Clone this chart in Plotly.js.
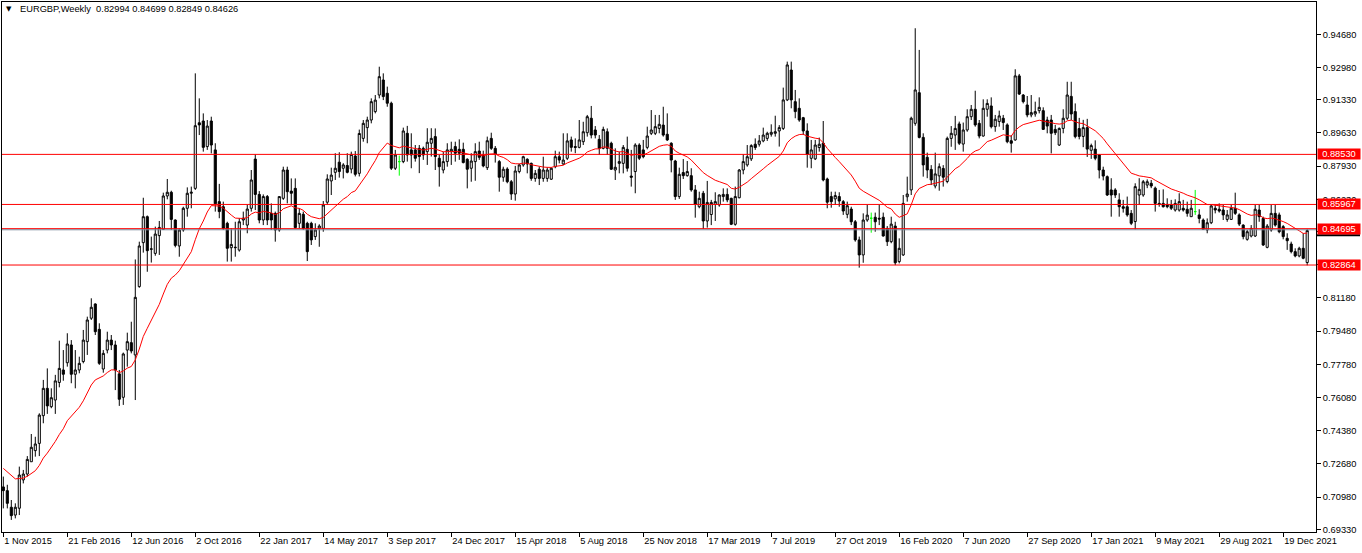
<!DOCTYPE html>
<html>
<head>
<meta charset="utf-8">
<script src="https://cdn.plot.ly/plotly-3.0.1.min.js"></script>
<style>html,body{margin:0;padding:0;background:#fff;}#chart{width:1362px;height:553px;}</style>
</head>
<body>
<div id="chart"></div>
<script>
// Weekly EURGBP candles, 1 Nov 2015 .. 30 Jan 2022 (one value per week)
const opens = [0.7150,0.7131,0.7046,0.7006,0.7041,0.7186,0.7216,0.7279,0.7336,0.7373,0.7515,0.7655,0.7561,0.7595,0.7685,0.7749,0.7786,0.7877,0.7727,0.7749,
0.7792,0.7894,0.8014,0.8087,0.7957,0.7754,0.7851,0.7902,0.7877,0.7729,0.7609,0.7851,0.7889,0.7826,0.8176,0.8401,0.8534,0.8367,0.8346,0.8437,
0.8469,0.8640,0.8659,0.8517,0.8384,0.8466,0.8577,0.8654,0.8679,0.9015,0.9024,0.8893,0.9024,0.8876,0.8611,0.8585,0.8500,0.8375,0.8375,0.8363,
0.8517,0.8491,0.8577,0.8829,0.8648,0.8517,0.8637,0.8551,0.8551,0.8466,0.8628,0.8773,0.8665,0.8679,0.8500,0.8546,0.8500,0.8500,0.8432,0.8474,
0.8474,0.8608,0.8717,0.8761,0.8813,0.8782,0.8796,0.8778,0.8845,0.8756,0.8935,0.8990,0.9029,0.9072,0.9157,0.9234,0.9166,0.9115,0.8782,0.8816,
0.8816,0.8961,0.8876,0.8876,0.8884,0.8884,0.8867,0.8910,0.8944,0.8833,0.8773,0.8816,0.8867,0.8893,0.8879,0.8879,0.8828,0.8782,0.8816,0.8870,
0.8850,0.8785,0.8935,0.8884,0.8816,0.8736,0.8778,0.8713,0.8650,0.8765,0.8799,0.8828,0.8807,0.8730,0.8777,0.8730,0.8730,0.8726,0.8790,0.8841,
0.8804,0.8833,0.8927,0.8893,0.8889,0.8918,0.8964,0.9038,0.8978,0.8930,0.8884,0.8969,0.8910,0.8773,0.8807,0.8807,0.8879,0.8742,0.8765,0.8901,
0.8876,0.8889,0.8961,0.8961,0.8986,0.9003,0.8956,0.8910,0.8819,0.8637,0.8760,0.8744,0.8744,0.8671,0.8585,0.8654,0.8512,0.8545,0.8597,0.8594,
0.8637,0.8648,0.8628,0.8495,0.8631,0.8773,0.8799,0.8830,0.8905,0.8905,0.8922,0.8935,0.8956,0.8961,0.8973,0.8986,0.9132,0.9285,0.9123,0.9089,
0.9041,0.8973,0.8833,0.8830,0.8888,0.8910,0.8727,0.8637,0.8625,0.8637,0.8611,0.8546,0.8573,0.8508,0.8415,0.8338,0.8517,0.8526,0.8531,0.8526,
0.8531,0.8474,0.8406,0.8486,0.8304,0.8338,0.8636,0.8671,0.9012,0.9169,0.8940,0.8838,0.8776,0.8691,0.8743,0.8781,0.8714,0.8935,0.8952,0.9009,
0.8906,0.8978,0.9046,0.9084,0.9012,0.8947,0.9084,0.9101,0.8995,0.9021,0.9038,0.9004,0.8923,0.8927,0.9255,0.9157,0.9106,0.9055,0.9060,0.9077,
0.9077,0.9029,0.9029,0.8981,0.8901,0.8986,0.9038,0.9150,0.9072,0.8985,0.8945,0.8990,0.8874,0.8880,0.8850,0.8773,0.8739,0.8671,0.8671,0.8620,
0.8585,0.8585,0.8551,0.8509,0.8645,0.8645,0.8696,0.8705,0.8680,0.8602,0.8602,0.8597,0.8594,0.8568,0.8568,0.8577,0.8572,0.8534,0.8560,0.8543,
0.8517,0.8466,0.8503,0.8577,0.8572,0.8568,0.8520,0.8520,0.8577,0.8543,0.8491,0.8418,0.8435,0.8435,0.8568,0.8525,0.8377,0.8466,0.8551,0.8543,
0.8483,0.8423,0.8394,0.8355,0.8333,0.8372,0.82994];
const highs = [0.7203,0.7161,0.7083,0.7066,0.7254,0.7237,0.7308,0.7421,0.7407,0.7527,0.7698,0.7757,0.7655,0.7724,0.7899,0.7851,0.7937,0.7902,0.7851,0.7817,
0.7954,0.8022,0.8116,0.8090,0.7988,0.7851,0.7945,0.7928,0.7899,0.7749,0.7838,0.7940,0.7996,0.8315,0.8406,0.8631,0.8540,0.8432,0.8483,0.8512,
0.8657,0.8727,0.8667,0.8520,0.8474,0.8585,0.8684,0.8688,0.9268,0.9140,0.9063,0.9029,0.9046,0.8910,0.8702,0.8611,0.8508,0.8474,0.8508,0.8526,
0.8560,0.8594,0.8773,0.8853,0.8665,0.8648,0.8645,0.8602,0.8560,0.8637,0.8790,0.8790,0.8730,0.8730,0.8577,0.8560,0.8508,0.8508,0.8500,0.8495,
0.8614,0.8751,0.8785,0.8859,0.8864,0.8808,0.8859,0.8867,0.8870,0.8980,0.9029,0.9046,0.9140,0.9157,0.9302,0.9268,0.9200,0.9123,0.8876,0.8847,
0.8990,0.8999,0.8961,0.8901,0.8901,0.8893,0.8987,0.8987,0.8986,0.8850,0.8867,0.8910,0.8918,0.8918,0.8930,0.8913,0.8833,0.8859,0.8910,0.8918,
0.8872,0.8944,0.8964,0.8896,0.8824,0.8790,0.8787,0.8722,0.8794,0.8805,0.8846,0.8833,0.8811,0.8773,0.8790,0.8841,0.8787,0.8786,0.8872,0.8867,
0.8961,0.8961,0.8944,0.8935,0.9029,0.9020,0.9055,0.9101,0.8998,0.8952,0.8995,0.8986,0.8918,0.8884,0.8867,0.8901,0.8944,0.8876,0.8910,0.8910,
0.8927,0.8995,0.9080,0.9055,0.9055,0.9097,0.9063,0.8915,0.8825,0.8785,0.8829,0.8819,0.8782,0.8696,0.8662,0.8666,0.8717,0.8620,0.8659,0.8648,
0.8679,0.8679,0.8631,0.8688,0.8778,0.8853,0.8901,0.8905,0.8935,0.8952,0.8990,0.8969,0.9007,0.9051,0.9003,0.9195,0.9328,0.9328,0.9183,0.9140,
0.9045,0.9012,0.8927,0.8927,0.8939,0.9024,0.8734,0.8662,0.8662,0.8659,0.8619,0.8611,0.8585,0.8517,0.8432,0.8551,0.8594,0.8555,0.8555,0.8594,
0.8555,0.8486,0.8534,0.8508,0.8423,0.8645,0.8739,0.9046,0.9499,0.9388,0.8961,0.8862,0.8798,0.8862,0.8807,0.8798,0.8944,0.8998,0.9050,0.9021,
0.9016,0.9084,0.9106,0.9179,0.9029,0.9135,0.9135,0.9145,0.9055,0.9077,0.9055,0.9012,0.8952,0.9289,0.9265,0.9162,0.9152,0.9157,0.9123,0.9145,
0.9094,0.9046,0.9055,0.9004,0.8991,0.9084,0.9225,0.9225,0.9114,0.9040,0.9030,0.9035,0.8908,0.8925,0.8855,0.8790,0.8745,0.8731,0.8680,0.8654,
0.8620,0.8637,0.8568,0.8705,0.8731,0.8722,0.8725,0.8722,0.8688,0.8671,0.8674,0.8628,0.8620,0.8623,0.8654,0.8620,0.8611,0.8620,0.8671,0.8572,
0.8525,0.8525,0.8594,0.8594,0.8602,0.8594,0.8568,0.8594,0.8657,0.8551,0.8495,0.8466,0.8491,0.8594,0.8594,0.8534,0.8496,0.8594,0.8594,0.8555,
0.8491,0.8449,0.8406,0.8372,0.8380,0.8449,0.84699];
const lows = [0.7040,0.7040,0.6981,0.6989,0.7006,0.7168,0.7203,0.7279,0.7305,0.7308,0.7476,0.7524,0.7553,0.7524,0.7660,0.7694,0.7766,0.7681,0.7655,0.7732,
0.7783,0.7826,0.8005,0.7928,0.7775,0.7735,0.7834,0.7851,0.7646,0.7565,0.7570,0.7766,0.7834,0.7595,0.8170,0.8350,0.8252,0.8299,0.8334,0.8338,
0.8466,0.8623,0.8466,0.8377,0.8329,0.8457,0.8534,0.8577,0.8671,0.8952,0.8867,0.8876,0.8858,0.8560,0.8526,0.8466,0.8304,0.8304,0.8329,0.8355,
0.8491,0.8449,0.8560,0.8568,0.8500,0.8491,0.8491,0.8466,0.8406,0.8457,0.8620,0.8602,0.8594,0.8474,0.8474,0.8466,0.8307,0.8389,0.8415,0.8380,
0.8457,0.8594,0.8645,0.8722,0.8734,0.8730,0.8756,0.8756,0.8740,0.8740,0.8918,0.8910,0.9012,0.9063,0.9140,0.9131,0.9097,0.8773,0.8773,0.8744,
0.8808,0.8816,0.8782,0.8816,0.8757,0.8825,0.8799,0.8842,0.8773,0.8688,0.8756,0.8790,0.8799,0.8816,0.8825,0.8807,0.8679,0.8713,0.8718,0.8825,
0.8787,0.8773,0.8876,0.8811,0.8662,0.8713,0.8705,0.8620,0.8616,0.8756,0.8790,0.8756,0.8718,0.8713,0.8696,0.8713,0.8713,0.8722,0.8782,0.8807,
0.8799,0.8824,0.8867,0.8859,0.8884,0.8901,0.8944,0.8935,0.8935,0.8850,0.8879,0.8850,0.8773,0.8722,0.8756,0.8756,0.8765,0.8688,0.8654,0.8824,
0.8833,0.8879,0.8952,0.8952,0.8961,0.8944,0.8922,0.8761,0.8620,0.8625,0.8727,0.8739,0.8662,0.8529,0.8577,0.8471,0.8478,0.8491,0.8512,0.8585,
0.8611,0.8608,0.8491,0.8488,0.8628,0.8751,0.8790,0.8819,0.8876,0.8893,0.8915,0.8922,0.8944,0.8944,0.8893,0.8978,0.9126,0.9089,0.9038,0.9020,
0.8952,0.8785,0.8782,0.8824,0.8867,0.8715,0.8577,0.8580,0.8594,0.8585,0.8543,0.8526,0.8491,0.8406,0.8273,0.8298,0.8508,0.8452,0.8457,0.8491,
0.8432,0.8384,0.8398,0.8286,0.8295,0.8333,0.8611,0.8645,0.9000,0.8935,0.8739,0.8731,0.8696,0.8679,0.8667,0.8688,0.8705,0.8892,0.8876,0.8901,
0.8867,0.8969,0.9029,0.8995,0.8935,0.8944,0.9046,0.8986,0.8969,0.8995,0.8978,0.8910,0.8862,0.8923,0.9157,0.9114,0.9043,0.9043,0.9046,0.9063,
0.8978,0.8961,0.8858,0.8952,0.8896,0.8961,0.9029,0.9029,0.8935,0.8930,0.8890,0.8840,0.8830,0.8823,0.8730,0.8720,0.8640,0.8534,0.8630,0.8534,
0.8555,0.8534,0.8491,0.8469,0.8594,0.8636,0.8680,0.8680,0.8560,0.8585,0.8581,0.8577,0.8568,0.8560,0.8560,0.8560,0.8534,0.8534,0.8543,0.8500,
0.8466,0.8449,0.8496,0.8551,0.8555,0.8517,0.8508,0.8517,0.8543,0.8486,0.8418,0.8411,0.8428,0.8430,0.8508,0.8384,0.8372,0.8457,0.8483,0.8449,
0.8418,0.8364,0.8346,0.8326,0.8326,0.8316,0.82849];
const closes = [0.7131,0.7066,0.7003,0.7046,0.7211,0.7216,0.7291,0.7353,0.7370,0.7518,0.7655,0.7565,0.7607,0.7693,0.7757,0.7727,0.7882,0.7727,0.7749,0.7783,
0.7902,0.8005,0.8070,0.7945,0.7783,0.7834,0.7902,0.7877,0.7749,0.7599,0.7831,0.7894,0.7846,0.8121,0.8384,0.8534,0.8360,0.8369,0.8445,0.8479,
0.8640,0.8659,0.8520,0.8387,0.8466,0.8577,0.8654,0.8659,0.9000,0.9004,0.8889,0.8998,0.8901,0.8600,0.8560,0.8474,0.8372,0.8392,0.8377,0.8508,
0.8526,0.8573,0.8722,0.8648,0.8517,0.8637,0.8517,0.8517,0.8466,0.8637,0.8773,0.8662,0.8654,0.8478,0.8551,0.8474,0.8355,0.8415,0.8466,0.8486,
0.8594,0.8727,0.8747,0.8782,0.8765,0.8799,0.8761,0.8853,0.8751,0.8960,0.9012,0.9029,0.9123,0.9131,0.9251,0.9149,0.9115,0.8782,0.8850,0.8816,
0.8973,0.8850,0.8850,0.8833,0.8842,0.8850,0.8915,0.8935,0.8842,0.8790,0.8816,0.8876,0.8879,0.8859,0.8859,0.8811,0.8777,0.8819,0.8867,0.8838,
0.8794,0.8923,0.8884,0.8855,0.8736,0.8777,0.8713,0.8650,0.8768,0.8799,0.8841,0.8804,0.8730,0.8756,0.8730,0.8773,0.8773,0.8782,0.8841,0.8824,
0.8824,0.8922,0.8889,0.8889,0.8927,0.8969,0.9046,0.8952,0.8952,0.8884,0.8981,0.8884,0.8777,0.8787,0.8816,0.8889,0.8782,0.8736,0.8901,0.8833,
0.8841,0.8947,0.8978,0.8995,0.9007,0.8952,0.8927,0.8824,0.8637,0.8751,0.8744,0.8765,0.8671,0.8597,0.8628,0.8512,0.8607,0.8607,0.8611,0.8645,
0.8648,0.8620,0.8495,0.8637,0.8773,0.8816,0.8841,0.8898,0.8888,0.8922,0.8952,0.8961,0.8966,0.8969,0.8990,0.9132,0.9311,0.9132,0.9072,0.9029,
0.8973,0.8853,0.8876,0.8901,0.8905,0.8722,0.8608,0.8611,0.8642,0.8614,0.8563,0.8590,0.8508,0.8415,0.8338,0.8517,0.8542,0.8526,0.8508,0.8522,
0.8435,0.8406,0.8496,0.8298,0.8372,0.8602,0.8650,0.9038,0.9183,0.8940,0.8799,0.8773,0.8722,0.8753,0.8790,0.8736,0.8935,0.8961,0.8986,0.8910,
0.8978,0.9046,0.9084,0.9004,0.8947,0.9089,0.9114,0.8995,0.9033,0.9050,0.9016,0.8918,0.8910,0.9255,0.9162,0.9123,0.9055,0.9067,0.9072,0.9094,
0.8981,0.8998,0.8961,0.8964,0.8986,0.9038,0.9157,0.9060,0.8944,0.8945,0.8990,0.8880,0.8898,0.8833,0.8773,0.8742,0.8645,0.8645,0.8645,0.8585,
0.8577,0.8543,0.8500,0.8688,0.8674,0.8713,0.8713,0.8691,0.8602,0.8597,0.8585,0.8585,0.8577,0.8602,0.8611,0.8568,0.8551,0.8577,0.8560,0.8525,
0.8469,0.8503,0.8589,0.8568,0.8563,0.8543,0.8543,0.8577,0.8551,0.8496,0.8432,0.8457,0.8474,0.8572,0.8534,0.8389,0.8486,0.8551,0.8491,0.8457,
0.8432,0.8411,0.8355,0.8333,0.8372,0.8321,0.84626];

const xTickIndex = [0,16,32,48,64,80,96,112,128,144,160,176,192,208,224,240,256,272,288,304,320];
const xTickLabels = ["1 Nov 2015","21 Feb 2016","12 Jun 2016","2 Oct 2016","22 Jan 2017","14 May 2017","3 Sep 2017","24 Dec 2017","15 Apr 2018","5 Aug 2018","25 Nov 2018","17 Mar 2019","7 Jul 2019","27 Oct 2019","16 Feb 2020","7 Jun 2020","27 Sep 2020","17 Jan 2021","9 May 2021","29 Aug 2021","19 Dec 2021"];
const yTickValues = [0.94680,0.92980,0.91330,0.89630,0.87930,0.86230,0.84580,0.82880,0.81180,0.79480,0.77780,0.76080,0.74380,0.72680,0.70980,0.69330];
const yTickHidden = [0.84580,0.82880];   // ticks whose labels sit fully under price boxes
const redLevels = [0.88530,0.85967,0.82864];
const bidPrice = 0.84695;
const emaStart = 0.7245;   // MA value read at the first bar
const emaPeriod = 20;
const headerText = "EURGBP,Weekly  0.82994 0.84699 0.82849 0.84626";

// ---- build traces ----
const idx = opens.map((_, i) => i);
const normal = {x:[],o:[],h:[],l:[],c:[]}, doji = {x:[],o:[],h:[],l:[],c:[]};
idx.forEach(i => {
  const t = (opens[i] === closes[i]) ? doji : normal;
  t.x.push(i); t.o.push(opens[i]); t.h.push(highs[i]); t.l.push(lows[i]); t.c.push(closes[i]);
});
const ema = [];
const a = 2 / (emaPeriod + 1);
closes.forEach((c, i) => { ema.push(i === 0 ? emaStart : ema[i-1] + a * (c - ema[i-1])); });

const FONT = 'Liberation Sans, Arial, sans-serif';
const traces = [
  {type:'candlestick', x:normal.x, open:normal.o, high:normal.h, low:normal.l, close:normal.c,
   increasing:{line:{color:'#000000',width:1}, fillcolor:'#ffffff'},
   decreasing:{line:{color:'#000000',width:1}, fillcolor:'#000000'},
   whiskerwidth:0, showlegend:false, hoverinfo:'skip'},
  {type:'candlestick', x:doji.x, open:doji.o, high:doji.h, low:doji.l, close:doji.c,
   increasing:{line:{color:'#00ff00',width:1}, fillcolor:'#00ff00'},
   decreasing:{line:{color:'#00ff00',width:1}, fillcolor:'#00ff00'},
   whiskerwidth:0, showlegend:false, hoverinfo:'skip'},
  {type:'scatter', mode:'lines', x:idx, y:ema, line:{color:'#ff0000', width:1}, showlegend:false, hoverinfo:'skip'}
];

const plotW = 1314, plotH = 530;
const yMin = 0.69192, yMax = 0.96334;
const pxPrice = (yMax - yMin) / plotH;

const shapes = [];
redLevels.forEach(v => shapes.push({type:'line', xref:'paper', x0:0, x1:1, yref:'y', y0:v, y1:v, line:{color:'#ff0000', width:1}, layer:'above'}));
shapes.push({type:'line', xref:'paper', x0:0, x1:1, yref:'y', y0:bidPrice + pxPrice*0.6, y1:bidPrice + pxPrice*0.6, line:{color:'#ff0000', width:1}, layer:'above'});
shapes.push({type:'line', xref:'paper', x0:0, x1:1, yref:'y', y0:bidPrice - pxPrice*0.5, y1:bidPrice - pxPrice*0.5, line:{color:'#778899', width:1}, layer:'above'});
// dark underline of the bid price box on the price scale
shapes.push({type:'line', xref:'paper', x0:1 + 1/plotW, x1:1 + 44/plotW, yref:'y', y0:bidPrice - pxPrice*6, y1:bidPrice - pxPrice*6, line:{color:'#000000', width:2}, layer:'above'});

const annotations = [];
const labelX = 1 + 1/plotW;
[...redLevels, bidPrice].forEach(v => {
  annotations.push({xref:'paper', yref:'y', x:labelX, y:v, xanchor:'left', yanchor:'middle',
    text:v.toFixed(5), showarrow:false, bgcolor:'#ff0000', font:{family:FONT, size:9.3, color:'#ffffff'},
    width:42, height:10, borderpad:0, align:'center'});
});
annotations.push({xref:'paper', yref:'paper', x:16/plotW, y:1 - 7/plotH, xanchor:'left', yanchor:'middle',
  text:headerText, showarrow:false, font:{family:FONT, size:9.3, color:'#000000'}});
annotations.push({xref:'paper', yref:'paper', x:7/plotW, y:1 - 7/plotH, xanchor:'center', yanchor:'middle',
  text:'▼', showarrow:false, font:{family:'DejaVu Sans', size:7, color:'#000000'}});

const layout = {
  width:1362, height:553,
  margin:{l:2, r:46, t:2, b:21, pad:0},
  paper_bgcolor:'#ffffff', plot_bgcolor:'#ffffff',
  showlegend:false, hovermode:false,
  boxgap:0.25,
  font:{family:FONT, size:9.3, color:'#000000'},
  xaxis:{range:[-0.325, 328.2], tickmode:'array', tickvals:xTickIndex, ticktext:xTickLabels,
    ticks:'outside', ticklen:4, tickcolor:'#000000', tickwidth:1, ticklabelposition:'outside right',
    showline:true, mirror:true, linecolor:'#000000', linewidth:1, showgrid:false, zeroline:false,
    rangeslider:{visible:false}, fixedrange:true, tickfont:{family:FONT, size:9.3, color:'#000000'}},
  yaxis:{range:[yMin, yMax], side:'right', tickmode:'array', tickvals:yTickValues,
    ticktext:yTickValues.map(v => yTickHidden.includes(v) ? '' : v.toFixed(5)),
    ticks:'outside', ticklen:4, tickcolor:'#000000', tickwidth:1,
    showline:true, mirror:true, linecolor:'#000000', linewidth:1, showgrid:false, zeroline:false,
    fixedrange:true, tickfont:{family:FONT, size:9.3, color:'#000000'}},
  shapes:shapes,
  annotations:annotations
};

Plotly.newPlot('chart', traces, layout, {displayModeBar:false, staticPlot:true});
</script>
</body>
</html>
